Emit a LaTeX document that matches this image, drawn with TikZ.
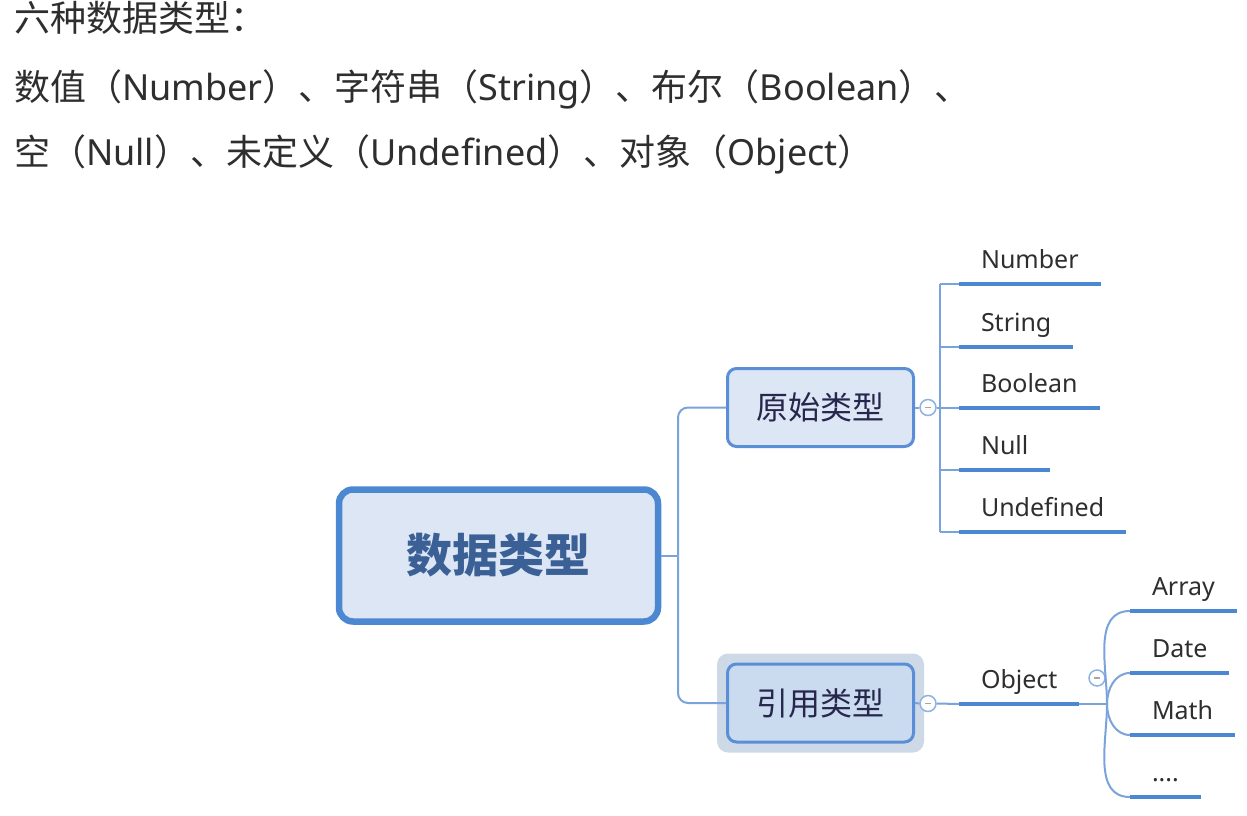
\documentclass[tikz,border=0pt]{standalone}
\usepackage{fontspec}
\setmainfont{Noto Sans}
\newfontfamily\cjk{Noto Sans CJK SC}
\usetikzlibrary{positioning, calc, backgrounds}
\definecolor{cline}{HTML}{7AA3DB}
\definecolor{cbar}{HTML}{4C88D2}
\definecolor{cedge}{HTML}{5A8FD8}
\definecolor{cfill}{HTML}{DCE6F4}
\definecolor{cdeep}{HTML}{CBDBEF}
\definecolor{chalo}{HTML}{CDD9E7}
\definecolor{ctitle}{HTML}{3B6096}
\definecolor{ctext}{HTML}{2E2E2E}
\newcommand{\zh}[1]{{\cjk #1}}
\newcommand{\etcdots}{....}
\tikzset{
  every picture/.style={x=1pt, y=-1pt, line width=2pt},
  link/.style={draw=cline, line width=2pt},
  bar/.style={draw=cbar, line width=4pt},
  rootbox/.style={draw=cbar, fill=cfill, line width=6.5pt, rounded corners=14pt, minimum width=319pt, minimum height=132pt, font=\cjk\bfseries\fontsize{46}{50}\selectfont, text=ctitle},
  typebox/.style={draw=cedge, fill=#1, line width=3pt, rounded corners=9pt, minimum width=186pt, minimum height=78pt, font=\cjk\fontsize{32}{36}\selectfont, text=ctext!85!blue},
  typebox/.default=cfill,
  leaf/.style={anchor=south west, inner xsep=22pt, inner ysep=11pt, outer sep=0pt, text height=18pt, text depth=5pt, font=\fontsize{25}{30}\selectfont, text=ctext},
  fold/.style={circle, draw=cline!85, fill=white, line width=1.5pt, minimum size=16pt, inner sep=0pt},
  intro/.style={anchor=base west, inner sep=0pt, font=\fontsize{36}{44}\selectfont, text=ctext},
}
\begin{document}
\begin{tikzpicture}
  \useasboundingbox (0,0) rectangle (1247,816);
  % heading lines
  \node[intro] (head) at (13,32) {\zh{六种数据类型：}};
  \node[intro] (row1) at (13,100) {\zh{数值（}Number\zh{）、字符串（}String\zh{）、布尔（}Boolean\zh{）、}};
  \node[intro] (row2) at (13,165) {\zh{空（}Null\zh{）、未定义（}Undefined\zh{）、对象（}Object\zh{）}};

  % the map
  \node[rootbox] (root) at (498.5,555.5) {数据类型};
  \node[typebox] (prim) at (820.5,407.5) {原始类型};
  \node[typebox=cdeep] (refer) at (820.5,703) {引用类型};
  \begin{scope}[on background layer]
    \fill[chalo, rounded corners=11pt] ($(refer.north west)+(-9pt,9pt)$) rectangle ($(refer.south east)+(9pt,-9pt)$);
  \end{scope}
  \coordinate (fork) at (678,555.5);
  \draw[link] (root.east) -- (fork);
  \draw[link, rounded corners=10pt] (fork) |- (prim.west);
  \draw[link, rounded corners=10pt] (fork) |- (refer.west);

  % primitive types
  \node[fold] (pfold) at (928,407.5) {};
  \coordinate (pbus) at (940,407.5);
  \draw[link] (prim.east) -- (pfold.west);
  \draw[link] (pfold.east) -- (pbus);
  \foreach \n/\t/\y in {num/Number/284, str/String/347, bool/Boolean/408, nul/Null/470, undef/Undefined/532} {
    \node[leaf] (\n) at (959,\y) {\t};
    \draw[bar] (\n.south west) -- (\n.south east);
    \draw[link] (pbus |- \n.south west) -- (\n.south west);
  }
  \draw[link] (pbus |- num.south west) -- (pbus |- undef.south west);

  % reference type
  \node[fold] (rfold) at (928,703.5) {};
  \node[leaf] (object) at (959,704) {Object};
  \draw[bar] (object.south west) -- (object.south east);
  \draw[link] (refer.east) -- (rfold.west);
  \draw[link] (rfold.east) -- (object.south west);
  \coordinate (ofork) at (1107,704);
  \draw[link] (object.south east) -- (ofork);
  \node[fold] (ofold) at (1097,678) {};
  \foreach \n/\t/\y/\o in {arr/Array/611/90, date/Date/673/90, math/Math/735/-90, more/\etcdots/797/-90} {
    \node[leaf] (\n) at (1130,\y) {\t};
    \draw[bar] (\n.south west) -- (\n.south east);
    \draw[link] (ofork) to[out=\o, in=180] (\n.south west);
  }
  \foreach \f in {pfold, rfold, ofold}
    \draw[gray!70, line width=1.2pt] ([xshift=-3pt]\f.center) -- ([xshift=3pt]\f.center);
\end{tikzpicture}
\end{document}
